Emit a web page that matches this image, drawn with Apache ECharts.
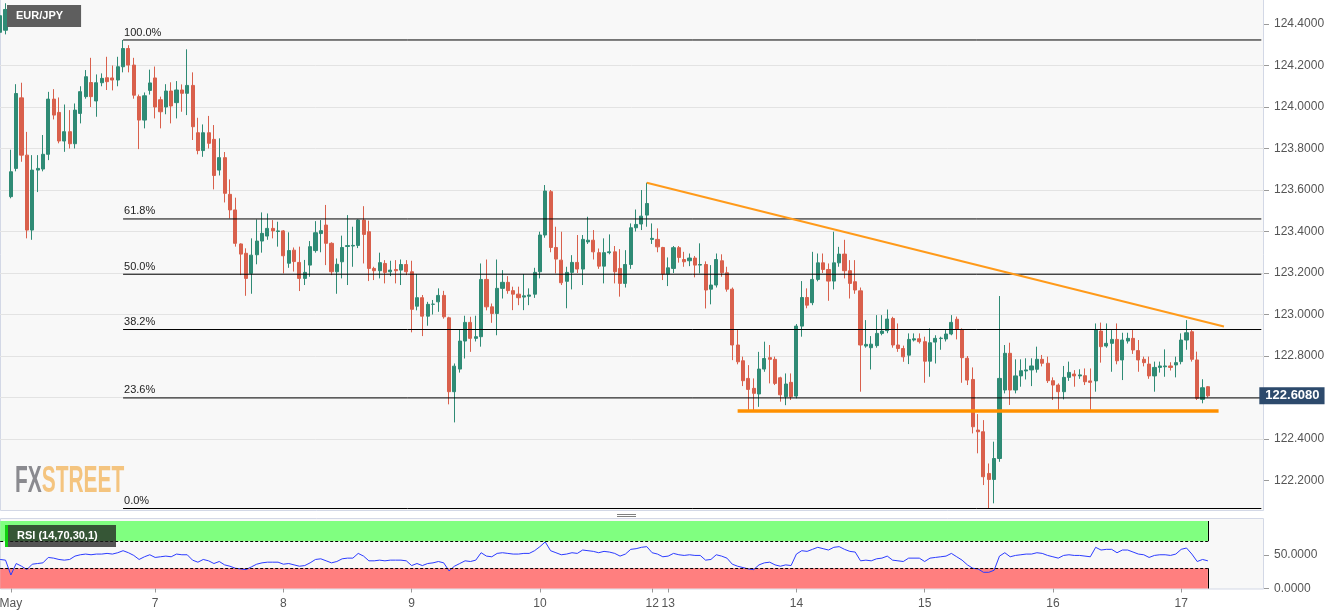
<!DOCTYPE html>
<html><head><meta charset="utf-8">
<script src="https://cdn.jsdelivr.net/npm/echarts@6/dist/echarts.min.js"></script>
<style>html,body{margin:0;padding:0;background:#fff;}#c{width:1331px;height:615px;}</style>
</head><body><div id="c"></div>
<script>
// ---- DATA ----
// hourly candles: [open, high, low, close]
const ohlc = [
[124.36,124.47,124.33,124.44],[124.37,124.50,124.35,124.47],
[123.568,123.794,123.56,123.688],[123.704,124.11,123.69,124.065],[124.044,124.117,123.736,123.768],[123.768,123.88,123.367,123.407],
[123.407,123.768,123.36,123.696],[123.696,123.768,123.59,123.704],[123.701,123.865,123.69,123.772],[123.772,124.073,123.744,124.038],
[124.038,124.086,123.94,123.961],[123.974,124.046,123.825,123.836],[123.836,124.012,123.784,123.881],[123.881,123.985,123.80,123.823],
[123.823,124.017,123.80,123.985],[123.969,124.10,123.921,124.074],[124.05,124.178,124.04,124.146],[124.118,124.237,124.00,124.05],
[124.029,124.157,123.953,124.117],[124.117,124.162,124.10,124.138],[124.141,124.242,124.082,124.122],[124.14,124.20,124.08,124.13],
[124.13,124.242,124.10,124.194],[124.194,124.323,124.167,124.282],[124.282,124.298,124.167,124.202],[124.202,124.237,124.04,124.057],
[124.05,124.06,123.797,123.937],[123.937,124.07,123.897,124.054],[124.08,124.18,124.06,124.116],[124.14,124.195,123.945,124.0],
[124.035,124.05,123.897,123.977],[124.0,124.11,123.965,124.077],[124.077,124.119,123.921,124.005],[124.021,124.125,123.945,124.082],
[124.082,124.109,123.977,124.066],[124.066,124.278,123.961,124.104],[124.104,124.167,123.841,123.905],[123.876,123.948,123.772,123.79],
[123.79,123.916,123.76,123.876],[123.876,123.957,123.80,123.825],[123.844,123.913,123.603,123.67],[123.696,123.849,123.67,123.756],
[123.756,123.783,123.54,123.584],[123.579,123.651,123.463,123.504],[123.504,123.563,123.327,123.343],[123.34,123.343,123.19,123.291],
[123.295,123.319,123.09,123.174],[123.198,123.367,123.10,123.286],[123.288,123.458,123.242,123.354],[123.354,123.492,123.298,123.391],
[123.378,123.487,123.36,123.415],[123.415,123.455,123.367,123.403],[123.40,123.447,123.327,123.403],[123.403,123.407,123.198,123.283],
[123.247,123.396,123.225,123.308],[123.31,123.323,123.207,123.255],[123.251,123.327,123.113,123.174],[123.174,123.263,123.142,123.203],
[123.238,123.354,123.182,123.327],[123.308,123.45,123.298,123.394],[123.39,123.455,123.30,123.404],[123.431,123.528,123.238,123.343],
[123.343,123.348,123.19,123.206],[123.206,123.27,123.10,123.242],[123.254,123.38,123.174,123.323],[123.328,123.479,123.142,123.332],
[123.33,123.423,123.23,123.333],[123.333,123.458,123.32,123.455],[123.455,123.522,123.246,123.386],[123.399,123.452,123.161,123.222],
[123.222,123.23,123.166,123.211],[123.211,123.298,123.174,123.25],[123.246,123.262,123.15,123.203],[123.206,123.259,123.185,123.214],
[123.217,123.262,123.15,123.211],[123.214,123.265,123.142,123.241],[123.241,123.262,123.19,123.206],[123.206,123.259,122.914,123.025],
[123.04,123.195,123.02,123.081],[123.081,123.094,122.896,122.992],[122.992,123.061,122.946,123.049],[123.049,123.07,123.0,123.05],
[123.061,123.126,123.013,123.092],[123.092,123.114,122.98,122.989],[122.984,122.989,122.567,122.628],[122.628,122.764,122.48,122.751],
[122.737,122.928,122.72,122.872],[122.872,122.994,122.788,122.962],[122.962,122.989,122.82,122.885],[122.885,122.994,122.87,122.893],
[122.893,123.246,122.845,123.169],[123.169,123.265,123.02,123.037],[123.037,123.053,122.96,123.005],[123.005,123.265,122.90,123.126],
[123.126,123.214,123.077,123.155],[123.155,123.185,123.10,123.115],[123.115,123.134,123.021,123.098],[123.098,123.134,123.045,123.081],
[123.084,123.195,123.021,123.09],[123.088,123.126,123.045,123.094],[123.098,123.225,123.08,123.203],[123.206,123.399,123.174,123.383],
[123.383,123.624,123.37,123.595],[123.592,123.60,123.30,123.323],[123.323,123.423,123.198,123.267],[123.262,123.399,123.142,123.153],
[123.16,123.23,123.03,123.203],[123.203,123.286,123.121,123.251],[123.251,123.383,123.20,123.219],[123.219,123.383,123.142,123.362],
[123.35,123.471,123.34,123.358],[123.358,123.407,123.265,123.302],[123.298,123.318,123.22,123.233],[123.233,123.367,123.15,123.298],
[123.298,123.386,123.29,123.302],[123.302,123.33,123.15,123.206],[123.222,123.315,123.086,123.15],[123.15,123.31,123.13,123.241],
[123.241,123.439,123.22,123.418],[123.418,123.506,123.40,123.434],[123.436,123.60,123.407,123.474],[123.479,123.635,123.423,123.535],
[123.362,123.439,123.34,123.367],[123.362,123.415,123.30,123.326],[123.323,123.326,123.166,123.195],[123.195,123.275,123.137,123.225],
[123.222,123.33,123.20,123.322],[123.322,123.33,123.25,123.275],[123.265,123.302,123.23,123.254],[123.259,123.294,123.233,123.272],
[123.272,123.282,123.179,123.238],[123.238,123.343,123.198,123.241],[123.241,123.256,123.029,123.118],[123.122,123.238,123.049,123.142],
[123.142,123.294,123.13,123.265],[123.259,123.29,123.182,123.201],[123.201,123.23,123.11,123.122],[123.122,123.13,122.78,122.853],
[122.853,122.925,122.76,122.772],[122.777,122.797,122.655,122.681],[122.692,122.756,122.54,122.639],[122.644,122.692,122.54,122.62],
[122.617,122.82,122.555,122.737],[122.737,122.869,122.724,122.788],[122.792,122.853,122.668,122.784],[122.784,122.797,122.66,122.668],
[122.695,122.70,122.58,122.613],[122.604,122.716,122.563,122.665],[122.673,122.716,122.588,122.604],[122.607,122.954,122.596,122.944],
[122.944,123.161,122.893,123.082],[123.082,123.126,123.03,123.045],[123.057,123.302,123.045,123.169],[123.169,123.294,123.16,123.249],
[123.249,123.294,123.20,123.217],[123.217,123.246,123.066,123.161],[123.161,123.399,123.121,123.249],[123.249,123.326,123.23,123.291],
[123.291,123.36,123.174,123.211],[123.211,123.262,123.077,123.15],[123.158,123.262,123.10,123.118],[123.114,123.13,122.628,122.853],
[122.848,122.973,122.84,122.856],[122.84,122.896,122.735,122.857],[122.85,122.997,122.84,122.909],[122.909,122.997,122.90,122.92],
[122.922,123.024,122.91,122.978],[122.981,122.989,122.84,122.853],[122.853,122.957,122.82,122.836],[122.836,122.85,122.772,122.796],
[122.804,122.909,122.761,122.88],[122.877,122.909,122.87,122.883],[122.883,122.909,122.86,122.869],[122.869,122.893,122.671,122.775],
[122.775,122.933,122.70,122.864],[122.867,122.90,122.764,122.885],[122.884,122.893,122.83,122.886],[122.882,122.925,122.87,122.906],
[122.906,122.997,122.90,122.962],[122.977,122.99,122.88,122.928],[122.928,122.933,122.671,122.792],[122.789,122.80,122.66,122.684],
[122.687,122.745,122.427,122.459],[122.443,122.52,122.331,122.435],[122.435,122.491,122.178,122.218],[122.234,122.282,122.065,122.205],
[122.205,122.387,122.09,122.306],[122.306,123.089,122.29,122.692],[122.636,122.853,122.62,122.813],[122.813,122.864,122.564,122.636],
[122.636,122.784,122.62,122.704],[122.704,122.784,122.652,122.729],[122.728,122.789,122.687,122.733],[122.733,122.789,122.655,122.752],
[122.736,122.845,122.72,122.784],[122.784,122.805,122.75,122.765],[122.765,122.797,122.67,122.681],[122.681,122.697,122.588,122.66],
[122.66,122.668,122.54,122.628],[122.628,122.752,122.591,122.697],[122.697,122.773,122.68,122.721],[122.713,122.732,122.652,122.704],
[122.704,122.736,122.69,122.709],[122.705,122.74,122.66,122.676],[122.68,122.74,122.54,122.673],[122.68,122.957,122.628,122.925],
[122.92,122.961,122.768,122.845],[122.848,122.957,122.84,122.861],[122.861,122.925,122.724,122.88],[122.88,122.957,122.76,122.777],
[122.781,122.912,122.684,122.877],[122.872,122.912,122.86,122.885],[122.885,122.925,122.81,122.829],[122.826,122.877,122.724,122.781],
[122.784,122.797,122.75,122.768],[122.761,122.797,122.69,122.704],[122.704,122.773,122.628,122.745],[122.745,122.773,122.72,122.752],
[122.748,122.832,122.70,122.752],[122.752,122.77,122.73,122.745],[122.757,122.797,122.697,122.768],[122.773,122.909,122.76,122.877],
[122.877,122.973,122.83,122.912],[122.917,122.925,122.773,122.784],[122.781,122.821,122.588,122.596],[122.591,122.688,122.572,122.647],
[122.652,122.655,122.60,122.608]
];
// RSI(14) per candle
const rsi = [
43,42,20,37,33,28,36,37,38,46,45,43,
42,43,48,50,51,50,51,51,52,51,
53,56,53,49,43,47,50,46,47,48,
47,51,50,50,42,39,43,41,37,40,
35,33,30,29,28,32,36,38,39,39,
39,36,37,35,33,34,38,43,44,41,
38,40,44,45,45,52,48,41,41,42,
41,42,42,42,41,34,37,34,37,38,
40,38,26,33,37,41,40,42,53,48,
47,52,53,52,51,51,52,52,56,62,
69,56,53,50,51,53,52,57,56,55,
53,55,54,52,48,51,58,59,61,62,
53,51,47,48,52,50,49,50,49,49,
42,43,50,48,45,36,33,31,29,28,
35,38,39,35,33,35,34,51,56,55,
58,61,59,57,61,62,58,55,54,41,
42,41,44,45,48,42,41,40,45,45,
45,40,45,46,47,48,52,47,42,35,
30,29,24,24,27,48,53,47,49,50,
51,51,53,52,49,47,45,49,50,49,
49,48,47,61,57,58,58,53,57,57,
54,51,50,46,49,50,50,49,51,58,
60,51,40,43,41
];
// trading sessions (UTC start, number of hourly candles)
const sessions = [['2019-05-03T19:00:00Z', 2], ['2019-05-05T21:00:00Z', 120], ['2019-05-12T21:00:00Z', 105]];
const emptySlots = 10;
const dayTickIndex = [2, 29, 53, 77, 101, 122, 125, 149, 173, 197, 221];
const dayTickText = ['May', '7', '8', '9', '10', '12', '13', '14', '15', '16', '17'];
const priceTickValues = [122.2, 122.4, 122.6, 122.8, 123.0, 123.2, 123.4, 123.6, 123.8, 124.0, 124.2, 124.4];
const priceLabelValues = [122.2, 122.4, 122.8, 123.0, 123.2, 123.4, 123.6, 123.8, 124.0, 124.2, 124.4];
const rsiTickValues = [0, 50];
const fibRatios = [1, 0.618, 0.5, 0.382, 0.236, 0];
const fibNames = ['100.0%', '61.8%', '50.0%', '38.2%', '23.6%', '0.0%'];
const fibHigh = 124.323, fibLow = 122.065, fibStartIndex = 23;
const resistanceLine = [[121, 123.635], [229, 122.942]];
const supportLine = [[138, 122.535], [228, 122.535]];
const lastPrice = 122.608;
const rsiUpper = 70, rsiLower = 30;

// ---- BUILD ----
const categories = [];
const pad2 = n => (n < 10 ? '0' : '') + n;
const fmt = t => { const d = new Date(t); return (d.getUTCMonth() + 1) + '-' + pad2(d.getUTCDate()) + ' ' + pad2(d.getUTCHours()) + ':00'; };
let lastT = 0;
sessions.forEach(([s, n]) => { const t0 = Date.parse(s); for (let h = 0; h < n; h++) { lastT = t0 + h * 3600e3; categories.push(fmt(lastT)); } });
for (let h = 1; h <= emptySlots; h++) categories.push(fmt(lastT + h * 3600e3));
const lastIdx = ohlc.length - 1;
const endIdx = categories.length - 1;
const tickMap = {}; dayTickIndex.forEach((ix, j) => tickMap[ix] = dayTickText[j]);
const isTick = (index) => tickMap[index] !== undefined;
const FONT = 'Liberation Sans, Arial, sans-serif';

// Fibonacci retracement lines drawn as small line series through the axes
const fibSeries = fibRatios.map((r, j) => {
  const v = +(fibLow + r * (fibHigh - fibLow)).toFixed(4);
  return {
    type: 'line', xAxisIndex: 0, yAxisIndex: 0, z: 5, silent: true, symbol: 'none',
    data: [[fibStartIndex, v], [endIdx, v]],
    lineStyle: { color: '#000', width: 1 },
    markPoint: {
      silent: true, symbol: 'rect', symbolSize: 0,
      data: [{ coord: [fibStartIndex, v], value: fibNames[j] }],
      label: { show: true, position: [1, -13], formatter: fibNames[j], color: '#222', fontSize: 11, fontFamily: FONT }
    }
  };
});

const chart = echarts.init(document.getElementById('c'), null, { renderer: 'canvas', devicePixelRatio: 1 });
const option = {
  animation: false,
  backgroundColor: '#ffffff',
  textStyle: { fontFamily: FONT },
  title: {
    text: 'EUR/JPY', left: 7, top: 5,
    backgroundColor: '#5e5e5e', padding: [5, 18, 5, 9],
    textStyle: { color: '#ffffff', fontSize: 11, fontWeight: 'bold', lineHeight: 12, fontFamily: FONT }
  },
  grid: [
    { left: -2.5, width: 1266.5, top: -17.5, height: 539.5, outerBoundsMode: 'none', containLabel: false },
    { left: -2.5, width: 1266.5, top: 521, height: 67.5, outerBoundsMode: 'none', containLabel: false }
  ],
  xAxis: [
    { type: 'category', gridIndex: 0, data: categories, show: false, boundaryGap: true },
    { type: 'category', gridIndex: 1, data: categories, boundaryGap: true,
      axisLine: { show: false },
      axisTick: { show: true, interval: isTick, alignWithLabel: true, length: 4, lineStyle: { color: '#9a9a9a' } },
      axisLabel: { interval: isTick, formatter: (v, i) => tickMap[i] || '', color: '#555', fontSize: 12, margin: 9, fontFamily: FONT },
      splitLine: { show: false } }
  ],
  yAxis: [
    { type: 'value', gridIndex: 0, position: 'right', min: 122.0, max: 124.6, interval: 0.2, scale: true,
      axisLine: { show: false },
      axisTick: { show: true, length: 5, lineStyle: { color: '#9a9a9a' }, customValues: priceTickValues },
      axisLabel: { customValues: priceLabelValues, color: '#555', fontSize: 12, margin: 10, fontFamily: FONT,
        formatter: v => (v > 122.1 && v < 124.5 && Math.abs(v - 122.6) > 0.01) ? v.toFixed(4) : '' },
      splitLine: { show: true, showMinLine: false, showMaxLine: false, lineStyle: { color: '#e3e3e3', width: 1 } } },
    { type: 'value', gridIndex: 1, position: 'right', min: 0, max: 100, interval: 50,
      axisLine: { show: false },
      axisTick: { show: true, length: 5, lineStyle: { color: '#9a9a9a' }, customValues: rsiTickValues },
      axisLabel: { customValues: rsiTickValues, color: '#555', fontSize: 12, margin: 10, fontFamily: FONT,
        formatter: v => (v === 0 || v === 50) ? v.toFixed(4) : '' },
      splitLine: { show: true, showMinLine: false, showMaxLine: false, lineStyle: { color: '#e3e3e3', width: 1 } } }
  ],
  graphic: [
    { type: 'rect', silent: true, z: -10, shape: { x: 0.5, y: -1, width: 1263, height: 511.5 }, style: { fill: '#f8f8f8', stroke: '#d3d8e6', lineWidth: 1 } },
    { type: 'rect', silent: true, z: -10, shape: { x: 0.5, y: 518.5, width: 1263, height: 70.5 }, style: { fill: '#f8f8f8', stroke: '#d3d8e6', lineWidth: 1 } },
    { type: 'line', silent: true, z: -5, shape: { x1: 617, y1: 514.5, x2: 636, y2: 514.5 }, style: { stroke: '#808080', lineWidth: 1 } },
    { type: 'line', silent: true, z: -5, shape: { x1: 617, y1: 516.5, x2: 636, y2: 516.5 }, style: { stroke: '#808080', lineWidth: 1 } },
    { type: 'text', silent: true, z: -5, x: 15, y: 463, scaleX: 0.565,
      style: { text: '{a|FX}{b|STREET}', rich: {
        a: { fill: '#8a8a8f', fontSize: 37, fontWeight: 'bold', fontFamily: 'Liberation Sans' },
        b: { fill: '#f4c47f', fontSize: 37, fontWeight: 'bold', fontFamily: 'Liberation Sans' } } } },
    { type: 'rect', silent: true, z: 50, shape: { x: 5, y: 525, width: 111, height: 22 }, style: { fill: 'rgba(30,30,30,0.75)' } },
    { type: 'rect', silent: true, z: 51, shape: { x: 5, y: 525, width: 3, height: 22 }, style: { fill: '#10d010' } },
    { type: 'text', silent: true, z: 52, x: 17, y: 536,
      style: { text: 'RSI (14,70,30,1)', fill: '#ffffff', fontSize: 11, fontWeight: 'bold', fontFamily: FONT, verticalAlign: 'middle' } }
  ],
  series: [
    { type: 'candlestick', xAxisIndex: 0, yAxisIndex: 0, z: 2,
      data: ohlc.map(r => [r[0], r[3], r[2], r[1]]),
      barWidth: 3.6,
      itemStyle: { color: '#2f8b75', color0: '#d9604c', borderColor: '#2f8b75', borderColor0: '#d9604c', borderColorDoji: '#2f8b75', borderWidth: 1 } },
    ...fibSeries,
    { type: 'line', xAxisIndex: 0, yAxisIndex: 0, z: 6, silent: true, symbol: 'none', data: resistanceLine,
      lineStyle: { color: '#ff9a1a', width: 2 } },
    { type: 'line', xAxisIndex: 0, yAxisIndex: 0, z: 6, silent: true, symbol: 'none', data: supportLine,
      lineStyle: { color: '#ff9000', width: 3.5 } },
    // last price tag on the price axis
    { type: 'line', xAxisIndex: 0, yAxisIndex: 0, z: 20, silent: true, symbol: 'none',
      data: [[lastIdx, lastPrice], [endIdx, lastPrice]], lineStyle: { opacity: 0 },
      endLabel: { show: true, formatter: lastPrice.toFixed(4), color: '#fff', fontWeight: 'bold', fontSize: 13, fontFamily: FONT,
        backgroundColor: '#2d4a6c', padding: [2, 5, 2, 6], distance: -2 } },
    { type: 'line', xAxisIndex: 1, yAxisIndex: 1, z: 4, silent: true, symbol: 'none', data: rsi,
      lineStyle: { color: '#2b3bff', width: 1 },
      markArea: { silent: true,
        data: [
          [{ coord: [0, rsiUpper], itemStyle: { color: '#80ff80', opacity: 1 } }, { coord: [lastIdx, 100] }],
          [{ coord: [0, 0], itemStyle: { color: '#ff7f7f', opacity: 1 } }, { coord: [lastIdx, rsiLower] }]
        ] },
      markLine: { silent: true, symbol: ['none', 'none'], label: { show: false },
        lineStyle: { color: '#000', width: 1 },
        data: [
          [{ coord: [0, rsiUpper], lineStyle: { type: [3, 2] } }, { coord: [lastIdx, rsiUpper] }],
          [{ coord: [0, rsiLower], lineStyle: { type: [3, 2] } }, { coord: [lastIdx, rsiLower] }],
          [{ coord: [lastIdx, rsiUpper], lineStyle: { type: 'solid' } }, { coord: [lastIdx, 100] }],
          [{ coord: [lastIdx, 0], lineStyle: { type: 'solid' } }, { coord: [lastIdx, rsiLower] }]
        ] } }
  ]
};
chart.setOption(option);
</script>
</body></html>
